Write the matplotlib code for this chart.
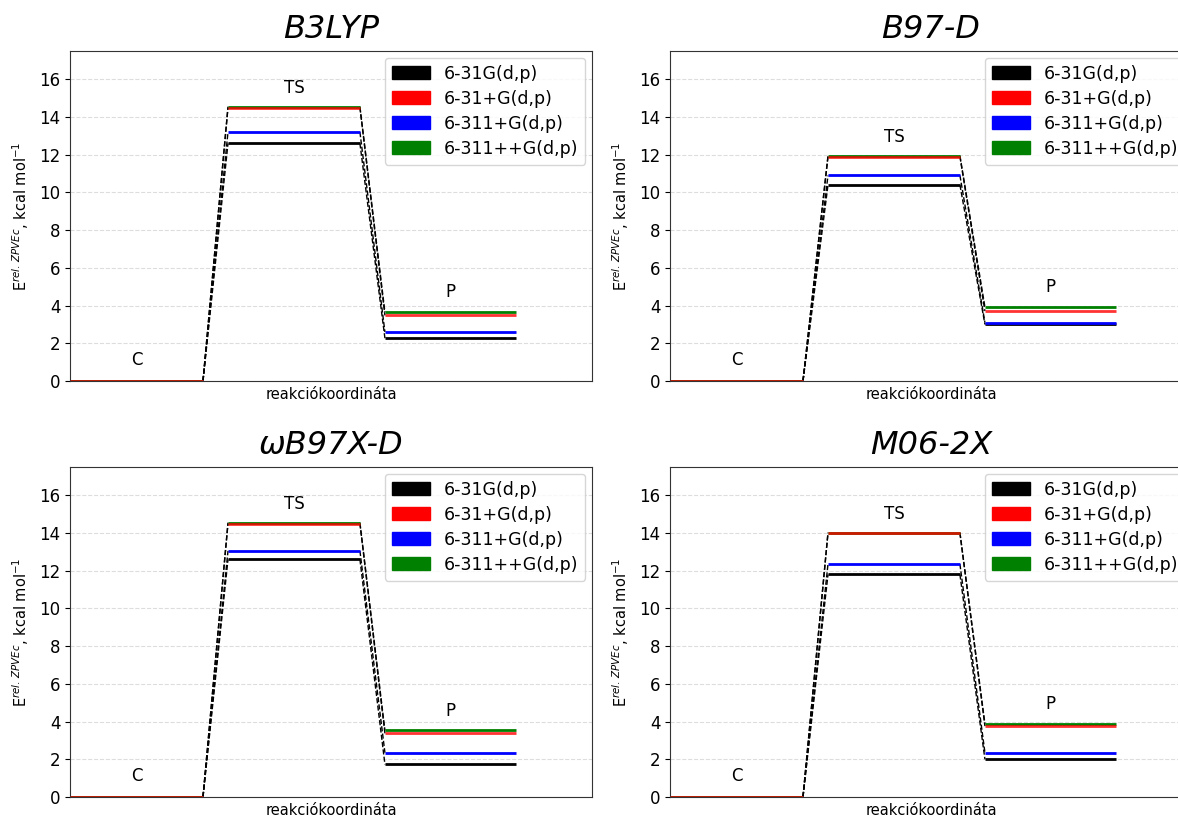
import matplotlib
matplotlib.use("Agg")
import matplotlib.pyplot as plt
from matplotlib.patches import Patch

# ── Data ──────────────────────────────────────────────────────────────────────
methods = ["B3LYP", "B97-D", "ωB97X-D", "M06-2X"]
bases = ["6-31G(d,p)", "6-31+G(d,p)", "6-311+G(d,p)", "6-311++G(d,p)"]
colors = ["black", "red", "blue", "green"]

# transition state energies per method, in basis order
ts_b3lyp = [12.6, 14.5, 13.2, 14.55]
ts_b97d = [10.4, 11.9, 10.9, 11.95]
ts_wb97xd = [12.6, 14.5, 13.05, 14.55]
ts_m062x = [11.8, 14.0, 12.35, 14.02]

# product energies per method, in basis order
p_b3lyp = [2.27, 3.48, 2.6, 3.65]
p_b97d = [3.0, 3.71, 3.1, 3.92]
p_wb97xd = [1.73, 3.37, 2.35, 3.53]
p_m062x = [2.0, 3.76, 2.35, 3.88]

ts_all = [ts_b3lyp, ts_b97d, ts_wb97xd, ts_m062x]
p_all = [p_b3lyp, p_b97d, p_wb97xd, p_m062x]

# ── Layout ────────────────────────────────────────────────────────────────────
W, H = 1178, 818
ax_w, ax_h = 522 / W, 330 / H
positions = [
    (70 / W, 1 - 381 / H),
    (670 / W, 1 - 381 / H),
    (70 / W, 1 - 797 / H),
    (670 / W, 1 - 797 / H),
]

C_X = (0.0, 1.0)
TS_X = (1.188, 2.18)
P_X = (2.368, 3.353)
draw_order = [0, 2, 3, 1]

plt.rcParams["mathtext.fontset"] = "dejavusans"
fig = plt.figure(figsize=(W / 100, H / 100), dpi=100)

for k, method in enumerate(methods):
    ax = fig.add_axes([positions[k][0], positions[k][1], ax_w, ax_h])
    ts, p = ts_all[k], p_all[k]

    for i in range(len(bases)):
        ax.plot([C_X[1], TS_X[0]], [0, ts[i]], "k--", lw=1, zorder=2)
        ax.plot([TS_X[1], P_X[0]], [ts[i], p[i]], "k--", lw=1, zorder=2)

    for i in draw_order:
        alpha = 0.8 if colors[i] == "red" else 1.0
        ax.hlines(0, *C_X, color=colors[i], lw=2, alpha=alpha, zorder=3)
        ax.hlines(ts[i], *TS_X, color=colors[i], lw=2, alpha=alpha, zorder=3)
        ax.hlines(p[i], *P_X, color=colors[i], lw=2, alpha=alpha, zorder=3)

    ax.text(sum(C_X) / 2, 1.1, "C", ha="center", va="center", fontsize=12)
    ax.text(sum(TS_X) / 2, max(ts) + 1.0, "TS", ha="center", va="center", fontsize=12)
    ax.text(sum(P_X) / 2, max(p) + 1.05, "P", ha="center", va="center", fontsize=12)

    ax.set_xlim(0, 3.925)
    ax.set_ylim(0, 17.5)
    ax.set_xticks([])
    ax.set_yticks(range(0, 17, 2))
    ax.tick_params(axis="y", labelsize=12)
    ax.grid(axis="y", linestyle="--", color="#dddddd", lw=0.8)
    ax.set_axisbelow(True)
    for s in ax.spines.values():
        s.set_color("#333333")

    ax.set_title(method, fontsize=23, style="italic", pad=9)
    ax.set_xlabel("reakciókoordináta", fontsize=10.5, labelpad=4)
    ax.set_ylabel(r"E$^{rel.\,ZPVEc}$, kcal mol$^{-1}$", fontsize=10.5, labelpad=6)

    handles = [Patch(facecolor=c, edgecolor=c) for c in colors]
    ax.legend(handles, bases, loc="upper right", fontsize=12.5,
              handlelength=2.2, handleheight=0.8, labelspacing=0.4,
              borderaxespad=0.4)

fig.savefig("out.png", dpi=100)
